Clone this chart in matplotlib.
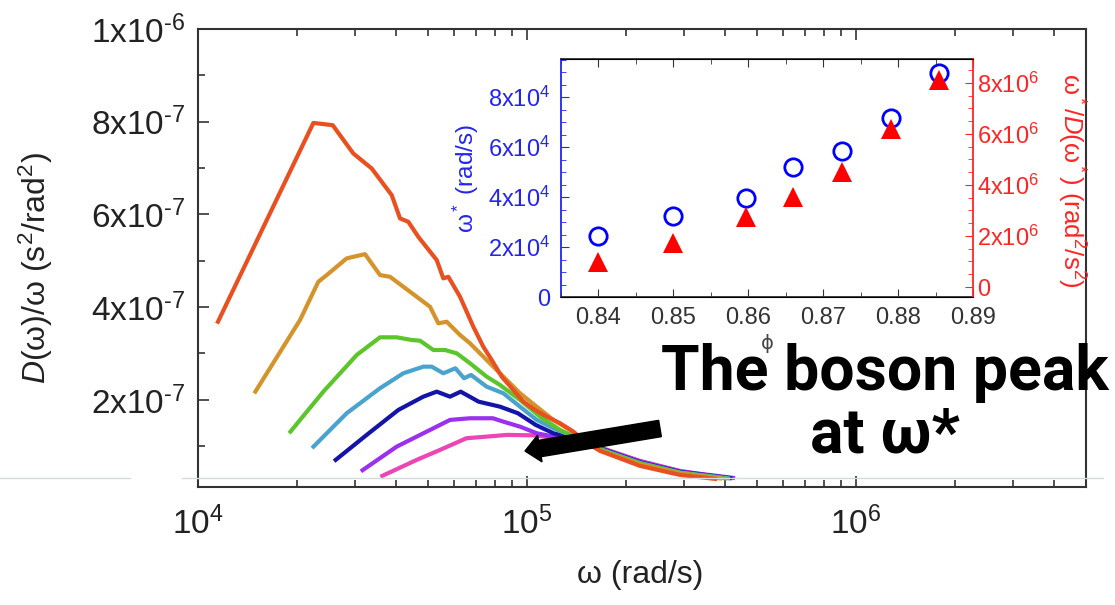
import numpy as np
import matplotlib
matplotlib.use("Agg")
import matplotlib.pyplot as plt
from matplotlib.ticker import MultipleLocator, FuncFormatter
from matplotlib.patches import FancyArrow
from matplotlib.lines import Line2D

plt.rcParams['font.family'] = ['Liberation Sans', 'DejaVu Sans']
plt.rcParams['mathtext.fontset'] = 'custom'
plt.rcParams['mathtext.rm'] = 'Liberation Sans'
plt.rcParams['mathtext.it'] = 'Liberation Sans:italic'
plt.rcParams['mathtext.default'] = 'regular'

# D(w)/w curves: w in 1e4 rad/s, D/w in 1e-7 s^2/rad^2
red_w = [1.150, 2.242, 2.567, 2.965, 3.373, 3.880, 4.111, 4.357, 4.673, 5.316, 5.567, 5.766, 6.257, 6.868,
         7.364, 7.810, 8.378, 9.086, 9.745, 10.58, 11.48, 12.60, 13.82, 15.01, 16.67, 22.06, 29.17, 37.27]
red_d = [3.685, 7.974, 7.925, 7.315, 6.991, 6.416, 5.914, 5.841, 5.517, 5.015, 4.621, 4.655, 4.224, 3.578,
         3.147, 2.860, 2.500, 2.213, 1.961, 1.782, 1.638, 1.496, 1.315, 1.093, 0.899, 0.575, 0.381, 0.295]

gold_w = [1.494, 2.042, 2.321, 2.462, 2.831, 3.218, 3.574, 3.833, 4.207, 4.621, 5.072, 5.376, 5.701,
          6.257, 6.711, 7.195, 7.898, 8.674, 9.522, 10.70, 12.02, 13.51, 16.67, 22.06, 29.17, 38.60]
gold_d = [2.177, 3.722, 4.547, 4.692, 5.052, 5.144, 4.692, 4.655, 4.440, 4.224, 4.009, 3.651, 3.685,
          3.399, 3.220, 3.004, 2.716, 2.429, 2.142, 1.853, 1.567, 1.351, 0.909, 0.608, 0.414, 0.306]

green_w = [1.910, 2.404, 3.037, 3.574, 4.018, 4.462, 4.730, 5.191, 5.634, 6.113, 6.711, 7.542, 8.278,
           9.522, 10.95, 12.60, 16.67, 22.06, 29.17, 39.98]
green_d = [1.315, 2.177, 2.968, 3.349, 3.349, 3.291, 3.276, 3.075, 3.075, 3.004, 2.789, 2.500, 2.321,
           1.998, 1.638, 1.351, 0.931, 0.629, 0.425, 0.306]

cyan_w = [2.244, 2.831, 3.574, 4.207, 4.840, 5.132, 5.567, 6.058, 6.436, 6.759, 7.542, 8.472, 9.522,
          10.70, 12.02, 13.99, 16.67, 22.06, 29.17, 40.83]
cyan_d = [0.991, 1.711, 2.250, 2.573, 2.716, 2.716, 2.573, 2.681, 2.466, 2.537, 2.284, 2.142, 1.853,
          1.567, 1.388, 1.200, 0.942, 0.640, 0.435, 0.310]

blue_w = [2.621, 3.257, 4.063, 4.840, 5.316, 5.834, 6.288, 7.126, 8.278, 9.383, 10.63, 12.02, 13.99,
          16.67, 22.06, 29.17, 41.40]
blue_d = [0.705, 1.244, 1.782, 2.069, 2.177, 2.069, 2.177, 1.961, 1.853, 1.711, 1.459, 1.280, 1.157,
          0.953, 0.651, 0.446, 0.3125]

purple_w = [3.164, 4.018, 5.072, 5.834, 6.711, 7.876, 8.472, 9.522, 10.70, 12.02, 13.99, 16.67, 22.06,
            29.17, 42.27]
purple_d = [0.483, 0.991, 1.351, 1.567, 1.603, 1.603, 1.530, 1.422, 1.280, 1.207, 1.136, 0.963, 0.672,
            0.457, 0.317]

pink_w = [3.632, 4.621, 5.440, 6.546, 7.542, 8.692, 10.63, 12.02, 13.99, 16.67, 22.06, 29.17, 38.60]
pink_d = [0.360, 0.705, 0.920, 1.172, 1.207, 1.244, 1.233, 1.179, 1.103, 0.974, 0.683, 0.468, 0.328]

# inset: boson peak position vs packing fraction
phi = [0.840, 0.850, 0.8597, 0.866, 0.8725, 0.879, 0.8855]
omega_star = [24400, 32500, 39500, 52100, 58500, 71500, 89700]
omega_over_D = [0.99e6, 1.71e6, 2.73e6, 3.54e6, 4.50e6, 6.20e6, 8.10e6]

curves = [
    (pink_w, pink_d, '#ec45b4'),
    (purple_w, purple_d, '#9b30ee'),
    (blue_w, blue_d, '#1414a8'),
    (cyan_w, cyan_d, '#4aa3cc'),
    (green_w, green_d, '#5cc52c'),
    (gold_w, gold_d, '#d4942b'),
    (red_w, red_d, '#ea4f20'),
]

BLUE = '#2424f0'
RED = '#ff2424'
DARK = '#222222'

W, H = 1115, 605
fig = plt.figure(figsize=(W / 100, H / 100), dpi=100)


def box(l, t, r, b):
    return [l / W, 1 - b / H, (r - l) / W, (b - t) / H]


def sci(v, pos):
    if abs(v) < 1e-30:
        return '0'
    e = int(np.floor(np.log10(abs(v)) + 1e-9))
    m = int(round(v / 10 ** e))
    exp = rf'\text{{-}}{-e}' if e < 0 else str(e)
    return rf'${m}\mathrm{{x}}10^{{{exp}}}$'


# main plot
ax = fig.add_axes(box(198, 29, 1086, 487))
for w, d, c in curves:
    ax.plot(np.array(w) * 1e4, np.array(d) * 1e-7, color=c, lw=3)
ax.set_xscale('log')
ax.set_xlim(1e4, 5e6)
ax.set_ylim(1.2e-8, 1e-6)
ax.yaxis.set_major_locator(MultipleLocator(2e-7))
ax.yaxis.set_minor_locator(MultipleLocator(1e-7))
ax.yaxis.set_major_formatter(FuncFormatter(sci))
ax.tick_params(which='both', direction='in', top=True, right=False, color='#333333',
               labelcolor=DARK, labelsize=24, width=1.2)
ax.tick_params(which='major', length=8)
ax.tick_params(which='minor', length=5)
ax.tick_params(axis='x', pad=14)
ax.tick_params(axis='y', pad=9)
for s in ax.spines.values():
    s.set_color('#333333')
    s.set_linewidth(1.5)
ax.set_xlabel('ω (rad/s)', fontsize=23, color=DARK)
ax.xaxis.set_label_coords(0.498, -0.159)
ax.set_ylabel(r'$\mathit{D}$(ω)/ω (s$^2$/rad$^2$)', fontsize=23, color=DARK)
ax.yaxis.set_label_coords(-0.161, 0.478)

# inset
ax_in = fig.add_axes(box(561, 59, 973, 297))
ax_in.plot(phi, omega_star, 'o', mfc='none', mec='#0000ff', ms=12.5, mew=2)
ax_in.set_xlim(0.835, 0.89)
ax_in.set_ylim(0, 9.52e4)
ax_in.xaxis.set_major_locator(MultipleLocator(0.01))
ax_in.xaxis.set_minor_locator(MultipleLocator(0.005))
ax_in.yaxis.set_major_locator(MultipleLocator(2e4))
ax_in.yaxis.set_minor_locator(MultipleLocator(5e3))
ax_in.yaxis.set_major_formatter(FuncFormatter(sci))
ax_in.tick_params(axis='x', which='both', direction='in', top=True, color='#333333',
                  labelcolor='#333333', labelsize=17, pad=7)
ax_in.tick_params(axis='y', which='both', direction='in', colors=BLUE, labelsize=17, pad=8)
ax_in.tick_params(which='major', length=6)
ax_in.tick_params(which='minor', length=3.5)
ax_in.spines['left'].set_color(BLUE)
ax_in.spines['right'].set_visible(False)
for k in ('top', 'bottom'):
    ax_in.spines[k].set_color('#333333')
    ax_in.spines[k].set_linewidth(1.3)
ax_in.spines['left'].set_linewidth(1.3)
ax_in.set_xlabel('ϕ', fontsize=14, color='#444444', family=['DejaVu Sans'], labelpad=4)
ax_in.set_ylabel(r'ω$^*$ (rad/s)', fontsize=17.5, color=BLUE)
ax_in.yaxis.set_label_coords(-0.193, 0.5)

ax_r = ax_in.twinx()
ax_r.plot(phi, omega_over_D, '^', color='#ff0000', ms=15, mew=0)
ax_r.set_ylim(-0.392e6, 8.94e6)
ax_r.yaxis.set_major_locator(MultipleLocator(2e6))
ax_r.yaxis.set_minor_locator(MultipleLocator(5e5))
ax_r.yaxis.set_major_formatter(FuncFormatter(sci))
ax_r.tick_params(axis='y', which='both', direction='in', colors=RED, labelsize=17, pad=3)
ax_r.tick_params(which='major', length=6)
ax_r.tick_params(which='minor', length=3.5)
ax_r.spines['left'].set_visible(False)
ax_r.spines['right'].set_color(RED)
ax_r.spines['right'].set_linewidth(1.3)
ax_r.set_ylabel(r'ω$^*$/$\mathit{D}$(ω$^*$) (rad$^2$/s$^2$)', fontsize=18.5, color=RED,
                rotation=-90, va='bottom')
ax_r.yaxis.set_label_coords(1.2, 0.49)

# faint slide rule line across the figure
y_rule = 1 - 478 / H
for x0, x1 in [(0, 130), (182, 1103)]:
    fig.add_artist(Line2D([x0 / W, x1 / W], [y_rule, y_rule], transform=fig.transFigure,
                          color='#d3dcdc', lw=1, zorder=1))

# annotation arrow and text
fig.add_artist(FancyArrow(6.60, 1.765, -1.35, -0.225, width=0.165, head_width=0.27,
                          head_length=0.15, length_includes_head=True, color='black',
                          transform=fig.dpi_scale_trans, zorder=10))
fig.text(885 / W, 1 - 404 / H, 'The boson peak\nat ω*', ha='center', va='center', fontsize=45,
         fontweight='bold', family=['Roboto', 'DejaVu Sans'], linespacing=1.05, zorder=11)

fig.savefig('out.png', dpi=100, facecolor='white')
